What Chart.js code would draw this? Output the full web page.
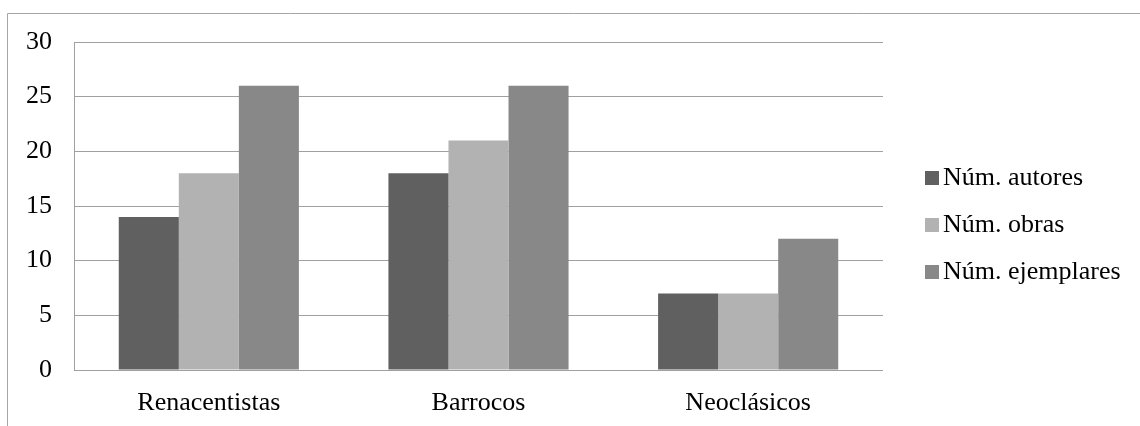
<!DOCTYPE html>
<html>
<head>
<meta charset="utf-8">
<script src="https://cdn.jsdelivr.net/npm/chart.js@4.4.1/dist/chart.umd.min.js"></script>
<style>
  html, body { margin: 0; padding: 0; background: #fff; }
  #wrap { width: 1140px; height: 426px; position: relative; }
</style>
</head>
<body>
<div id="wrap"><canvas id="chart" width="1140" height="426"></canvas></div>
<script>
const categories = ['Renacentistas', 'Barrocos', 'Neoclásicos'];
const seriesNames = ['Núm. autores', 'Núm. obras', 'Núm. ejemplares'];
const autores    = [14, 18, 7];
const obras      = [18, 21, 7];
const ejemplares = [26, 26, 12];
const yTicks = [0, 5, 10, 15, 20, 25, 30];

const colors = ['#606060', '#b2b2b2', '#888888'];
const FONT = '"Liberation Serif", "Times New Roman", serif';

// outer frame (top + left edges only are visible in the picture)
const framePlugin = {
  id: 'frame',
  beforeDraw(chart) {
    const { ctx } = chart;
    ctx.save();
    ctx.strokeStyle = '#a6a6a6'; ctx.lineWidth = 1;
    ctx.beginPath();
    ctx.moveTo(7.5, 426); ctx.lineTo(7.5, 13.5); ctx.lineTo(1140, 13.5);
    ctx.stroke();
    ctx.restore();
  },
};

// legend on the right, drawn from the datasets
const sideLegend = {
  id: 'sideLegend',
  afterDraw(chart) {
    const { ctx } = chart;
    ctx.save();
    ctx.font = '26px ' + FONT;
    ctx.textBaseline = 'alphabetic';
    ctx.fillStyle = '#000';
    chart.data.datasets.forEach((ds, i) => {
      const base = 185 + i * 47;
      ctx.fillStyle = ds.backgroundColor;
      ctx.fillRect(925, base - 14, 14, 14);
      ctx.fillStyle = '#000';
      ctx.fillText(ds.label, 943, base);
    });
    ctx.restore();
  },
};

const datasets = [autores, obras, ejemplares].map((d, i) => ({
  label: seriesNames[i], data: d,
  backgroundColor: colors[i], borderWidth: 0,
  categoryPercentage: 0.668, barPercentage: 1,
}));

new Chart(document.getElementById('chart').getContext('2d'), {
  type: 'bar',
  data: { labels: categories, datasets },
  plugins: [framePlugin, sideLegend],
  options: {
    responsive: false,
    animation: false,
    layout: { padding: { top: 42, right: 257, left: 0, bottom: 0 } },
    scales: {
      x: {
        grid: { display: false, drawTicks: false },
        border: { display: false },
        ticks: { color: '#000', font: { family: FONT, size: 26 }, padding: 18, maxRotation: 0 },
        afterFit: s => { s.height = 56; },
      },
      y: {
        min: 0, max: 30,
        afterBuildTicks: s => { s.ticks = yTicks.map(v => ({ value: v })); },
        grid: { color: '#a0a0a0', lineWidth: 1, drawTicks: false },
        border: { display: true, color: '#a0a0a0' },
        ticks: { color: '#000', font: { family: FONT, size: 26 }, padding: 22 },
        afterFit: s => { s.width = 74; },
      },
    },
    plugins: { legend: { display: false }, tooltip: { enabled: false } },
  },
});
</script>
</body>
</html>
